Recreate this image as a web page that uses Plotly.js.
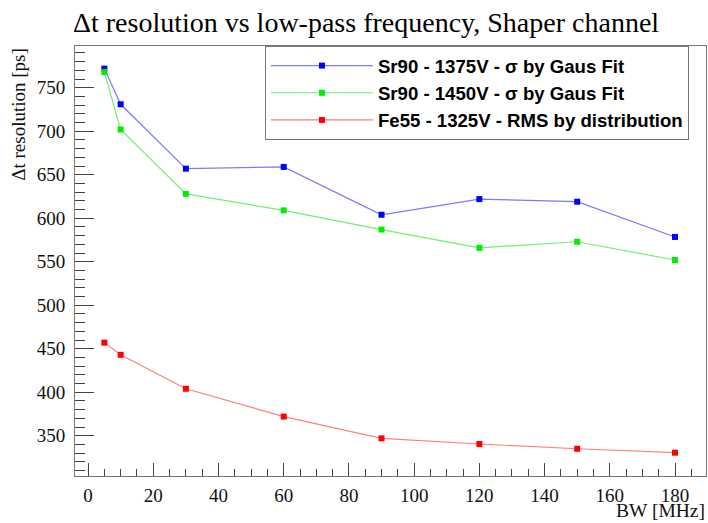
<!DOCTYPE html>
<html>
<head>
<meta charset="utf-8">
<script src="https://cdn.plot.ly/plotly-3.0.1.min.js"></script>
<style>html,body{margin:0;padding:0;background:#fff;}#chart{width:708px;height:523px;}</style>
</head>
<body>
<div id="chart"></div>
<script>
const bw = [5, 10, 30, 60, 90, 120, 150, 180];
const sr90_1375 = [772, 731, 657, 659, 604, 622, 619, 578.5];
const sr90_1450 = [768, 702, 628, 609, 587, 566, 573, 552];
const fe55_1325 = [457, 443, 404, 372, 347, 340.5, 335, 330.5];
const names = [
  "Sr90 - 1375V - σ by Gaus Fit",
  "Sr90 - 1450V - σ by Gaus Fit",
  "Fe55 - 1325V - RMS by distribution"
];
const titleText = "Δt resolution vs low-pass frequency, Shaper channel";
const xTitle = "BW [MHz]";
const yTitle = "Δt resolution [ps]";

const serif = "Liberation Serif";
const sans = "Liberation Sans";
const series = [sr90_1375, sr90_1450, fe55_1325];
const markerColors = ["#0000ff", "#00ee00", "#ff0000"];
const lineColors = ["#7b7bff", "#70f070", "#ff7f7f"];

const traces = series.map((ys, i) => ({
  x: bw, y: ys, name: "<b>" + names[i] + "</b>", type: "scatter", mode: "lines+markers",
  legendgroup: "g" + i,
  line: {color: lineColors[i], width: 1.2},
  marker: {symbol: "square", size: 6, color: markerColors[i]}
}));

const layout = {
  width: 708, height: 523,
  margin: {l: 75, r: 2, t: 46, b: 47},
  paper_bgcolor: "#fff", plot_bgcolor: "#fff",
  font: {family: serif, color: "#000"},
  showlegend: true,
  title: {text: titleText, font: {family: serif, size: 28, color: "#000"},
          x: 0.517, xanchor: "center", y: 0.957, yanchor: "middle"},
  legend: {x: 0.301, y: 1.0, xanchor: "left", yanchor: "top",
           bgcolor: "#fff", bordercolor: "#777", borderwidth: 1,
           font: {family: sans, size: 18.6, color: "#000"},
           itemwidth: 102, tracegroupgap: 0},
  xaxis: {range: [-4, 189.5], showgrid: false, zeroline: false,
          showline: true, mirror: true, linecolor: "#777", linewidth: 1,
          ticks: "inside", ticklen: 13, tickcolor: "#444", dtick: 20, tick0: 0,
          ticklabelstandoff: 2,
          tickfont: {family: serif, size: 19, color: "#111"},
          minor: {ticks: "inside", ticklen: 7, dtick: 5, tickcolor: "#444"}},
  yaxis: {range: [303.7, 798], showgrid: false, zeroline: false,
          showline: true, mirror: true, linecolor: "#777", linewidth: 1,
          ticks: "inside", ticklen: 19, tickcolor: "#444", dtick: 50, tick0: 0,
          ticklabelstandoff: 5,
          tickfont: {family: serif, size: 19, color: "#111"},
          minor: {ticks: "inside", ticklen: 10, dtick: 10, tickcolor: "#444"}},
  annotations: [
    {text: xTitle, xref: "paper", yref: "paper", x: 1.0, y: -0.107,
     xanchor: "right", yanchor: "bottom", showarrow: false, borderpad: 0,
     font: {family: serif, size: 19.5, color: "#111"}},
    {text: yTitle, xref: "paper", yref: "paper", x: -0.09, y: 1.0,
     xanchor: "center", yanchor: "top", textangle: -90, showarrow: false,
     font: {family: serif, size: 19, color: "#111"}}
  ]
};
Plotly.newPlot("chart", traces, layout, {staticPlot: true, displayModeBar: false});
</script>
</body>
</html>
